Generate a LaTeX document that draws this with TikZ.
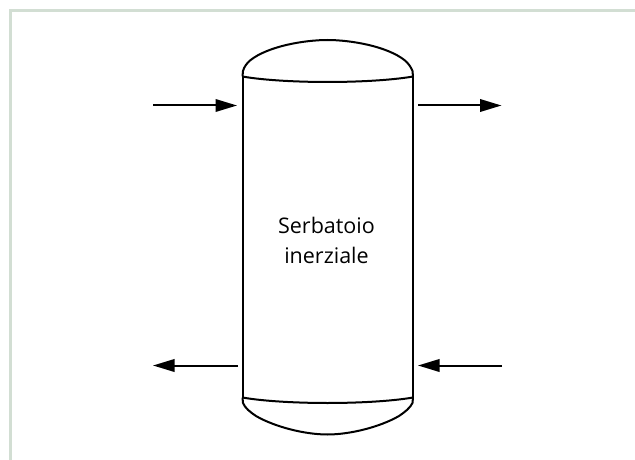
\documentclass[tikz,border=0pt]{standalone}
\usepackage{fontspec}
\setmainfont{Open Sans}
\usetikzlibrary{arrows.meta}
\definecolor{framegreen}{HTML}{D2DED3}
\tikzset{
  tank/.style={draw=black,line width=2pt,line join=round},
  flow/.style={draw=black,line width=2pt,-{Triangle[length=21.5pt,width=12.5pt]}},
  frameline/.style={draw=framegreen,line width=3pt},
  lbl/.style={font=\fontsize{21.5}{30}\selectfont,align=center,text=black,inner sep=0pt}
}
\begin{document}
\begin{tikzpicture}[x=1pt,y=-1pt]
\useasboundingbox (0,0) rectangle (635,460);
\fill[white] (0,0) rectangle (635,460);
\draw[frameline] (10,460) -- (10,10.5) -- (635,10.5);
% tank
\draw[tank] (242.5,76.5) -- (242.5,397.5);
\draw[tank] (413,76.5) -- (413,397.5);
\draw[tank] (242.5,76.5) -- (243,71) .. controls (244,67) and (247,63) .. (250,60.5) .. controls (268,46) and (305,40) .. (327.5,40) .. controls (350,40) and (387,46) .. (405,60.5) .. controls (408,63) and (411,67) .. (412.5,71) -- (413,76.5);
\draw[tank] (242.5,76.5) .. controls (265,80.5) and (300,82) .. (327.5,82) .. controls (355,82) and (390,80.5) .. (413,76.5);
\draw[tank] (242.5,397.5) .. controls (265,401.5) and (300,403) .. (327.5,403) .. controls (355,403) and (390,401.5) .. (413,397.5);
\draw[tank] (242.5,397.5) -- (243,403) .. controls (245,408) and (250,412) .. (256,416) .. controls (275,427) and (305,434.5) .. (327.5,434.5) .. controls (350,434.5) and (380,427) .. (399,416) .. controls (405,412) and (410,408) .. (412.5,403) -- (413,397.5);
% label
\node[lbl] (label) at (326.5,240.5) {Serbatoio\\inerziale};
% arrows
\coordinate (a1s) at (153,105.5); \coordinate (a1e) at (237,105.5);
\coordinate (a2s) at (418,105.5); \coordinate (a2e) at (501.5,105.5);
\coordinate (a3s) at (238,365.5); \coordinate (a3e) at (153,365.5);
\coordinate (a4s) at (502,365.5); \coordinate (a4e) at (418,365.5);
\draw[flow] (a1s) -- (a1e);
\draw[flow] (a2s) -- (a2e);
\draw[flow] (a3s) -- (a3e);
\draw[flow] (a4s) -- (a4e);
\end{tikzpicture}
\end{document}
